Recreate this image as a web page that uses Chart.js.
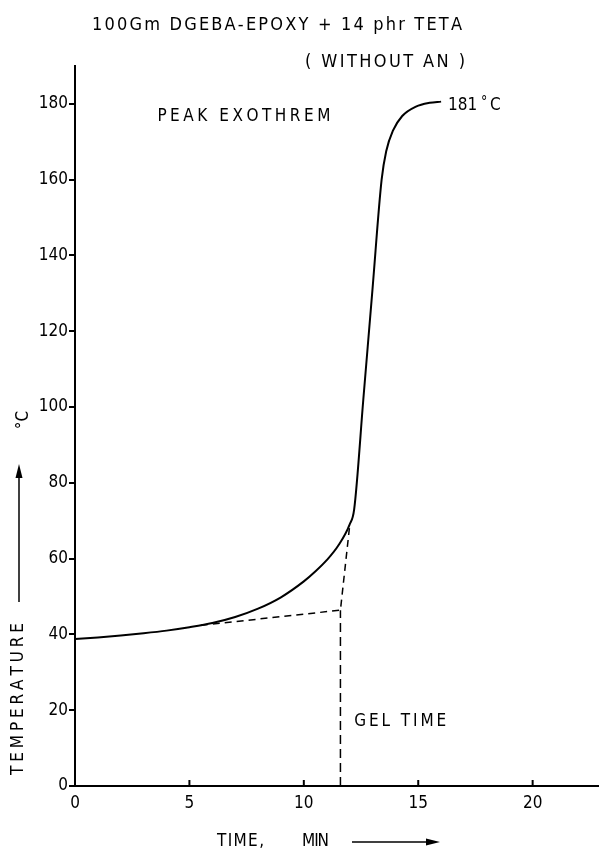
<!DOCTYPE html>
<html>
<head>
<meta charset="utf-8">
<script src="https://cdn.jsdelivr.net/npm/chart.js@4.4.1/dist/chart.umd.min.js"></script>
<style>
  html, body { margin: 0; padding: 0; background: #fff; }
  #wrap { width: 599px; height: 854px; position: relative; }
</style>
</head>
<body>
<div id="wrap"><canvas id="myChart"></canvas></div>
<script>
// data (time in min, temperature in degC)
const curveTime = [0, 1, 2, 3, 4, 5, 6, 7, 8, 9, 10, 10.5, 11, 11.5, 12.0, 12.2, 12.6, 13.0, 13.4, 13.6, 13.9, 14.3, 14.9, 15.5, 16.0];
const curveTemp = [38.8, 39.2, 39.7, 40.3, 41.0, 41.9, 43.0, 44.6, 46.8, 49.8, 54.0, 56.6, 59.6, 63.4, 69.0, 73.0, 102, 131, 160, 167.5, 173, 176.8, 179.3, 180.3, 180.6];

// dashed construction lines for the gel time
const baseTime = [5.5, 11.6, 12.0];
const baseTemp = [42.4, 46.4, 68.5];
const gelTime = [11.6, 11.6];
const gelTemp = [0, 46.4];

const xTicks = [0, 5, 10, 15, 20];
const yTicks = [0, 20, 40, 60, 80, 100, 120, 140, 160, 180];

const FONT = "'DejaVu Sans Condensed', 'Liberation Sans Narrow', 'DejaVu Sans', sans-serif";

const toPoints = (xs, ys) => xs.map((x, i) => ({ x: x, y: ys[i] }));

// draw text letter by letter so it spans a given width
function spacedText(ctx, text, x, y, width, size) {
  ctx.font = size + 'px ' + FONT;
  ctx.textAlign = 'left';
  ctx.textBaseline = 'middle';
  const chars = [...text];
  const ws = chars.map(c => ctx.measureText(c).width);
  const total = ws.reduce((a, b) => a + b, 0);
  const gap = chars.length > 1 ? (width - total) / (chars.length - 1) : 0;
  let cx = x;
  chars.forEach((c, i) => {
    ctx.fillText(c, cx, y);
    cx += ws[i] + gap;
  });
}

const textPlugin = {
  id: 'textPlugin',
  afterDraw(chart) {
    const ctx = chart.ctx;
    const xs = chart.scales.x;
    const ys = chart.scales.y;
    const area = chart.chartArea;
    ctx.save();
    ctx.fillStyle = '#000';
    ctx.strokeStyle = '#000';

    // x tick marks point up into the plot
    ctx.lineWidth = 2;
    xTicks.slice(1).forEach(v => {
      const px = xs.getPixelForValue(v);
      ctx.beginPath();
      ctx.moveTo(px, area.bottom);
      ctx.lineTo(px, area.bottom - 6);
      ctx.stroke();
    });

    // title
    spacedText(ctx, '100Gm DGEBA-EPOXY + 14 phr TETA', 92, 25, 370, 18);
    spacedText(ctx, '( WITHOUT AN )', 305, 62, 160, 18);

    // annotations
    spacedText(ctx, 'PEAK EXOTHREM', xs.getPixelForValue(3.6), ys.getPixelForValue(176.6), 173, 17);
    spacedText(ctx, 'GEL TIME', xs.getPixelForValue(12.2), ys.getPixelForValue(17), 92, 17);
    const lx = xs.getPixelForValue(16.3);
    const ly = ys.getPixelForValue(179.5);
    ctx.font = '17px ' + FONT;
    ctx.textAlign = 'left';
    ctx.textBaseline = 'middle';
    ctx.fillText('181', lx, ly);
    ctx.font = '14px ' + FONT;
    ctx.fillText('°', lx + 33, ly - 3);
    ctx.font = '17px ' + FONT;
    ctx.fillText('C', lx + 42, ly);

    // x axis title
    spacedText(ctx, 'TIME,', 217, 842, 47, 17);
    spacedText(ctx, 'MIN', 302, 842, 27, 17);
    ctx.lineWidth = 1.5;
    ctx.beginPath();
    ctx.moveTo(352, 842);
    ctx.lineTo(428, 842);
    ctx.stroke();
    ctx.beginPath();
    ctx.moveTo(440, 842);
    ctx.lineTo(426, 838.5);
    ctx.lineTo(426, 845.5);
    ctx.closePath();
    ctx.fill();

    // y axis title (rotated)
    ctx.save();
    ctx.translate(19, 699);
    ctx.rotate(-Math.PI / 2);
    spacedText(ctx, 'TEMPERATURE', -76, 0, 152, 17);
    ctx.restore();
    ctx.lineWidth = 1.5;
    ctx.beginPath();
    ctx.moveTo(19, 602);
    ctx.lineTo(19, 476);
    ctx.stroke();
    ctx.beginPath();
    ctx.moveTo(19, 464);
    ctx.lineTo(15.5, 478);
    ctx.lineTo(22.5, 478);
    ctx.closePath();
    ctx.fill();
    ctx.save();
    ctx.translate(24, 420);
    ctx.rotate(-Math.PI / 2);
    ctx.font = '17px ' + FONT;
    ctx.textAlign = 'center';
    ctx.textBaseline = 'middle';
    ctx.fillText('°C', 0, 0);
    ctx.restore();

    ctx.restore();
  }
};

const data = {
  datasets: [
    {
      label: 'Temperature',
      data: toPoints(curveTime, curveTemp),
      borderColor: '#000',
      borderWidth: 2,
      pointRadius: 0,
      cubicInterpolationMode: 'monotone',
      fill: false
    },
    {
      label: 'Base line',
      data: toPoints(baseTime, baseTemp),
      borderColor: '#000',
      borderWidth: 1.5,
      borderDash: [7, 5],
      pointRadius: 0,
      tension: 0,
      fill: false
    },
    {
      label: 'Gel time',
      data: toPoints(gelTime, gelTemp),
      borderColor: '#000',
      borderWidth: 1.5,
      borderDash: [9, 5],
      pointRadius: 0,
      tension: 0,
      fill: false
    }
  ]
};

// config
const config = {
  type: 'line',
  data,
  options: {
    responsive: true,
    maintainAspectRatio: false,
    animation: false,
    layout: { padding: { top: 66, right: 0, bottom: 0, left: 0 } },
    plugins: {
      legend: { display: false },
      tooltip: { enabled: false }
    },
    scales: {
      x: {
        type: 'linear',
        min: 0,
        max: 22.9,
        afterBuildTicks: s => { s.ticks = xTicks.map(v => ({ value: v })); },
        afterFit: s => { s.height = 68; },
        grid: { drawOnChartArea: false, color: 'rgba(0,0,0,0)', tickLength: 4 },
        border: { color: '#000', width: 2 },
        ticks: { color: '#000', font: { family: FONT, size: 17 }, padding: 3, maxRotation: 0, autoSkip: false }
      },
      y: {
        min: 0,
        max: 190,
        afterBuildTicks: s => { s.ticks = yTicks.map(v => ({ value: v })); },
        afterFit: s => { s.width = 75; },
        grid: { drawOnChartArea: false, color: '#000', lineWidth: 2, tickLength: 6 },
        border: { color: '#000', width: 2 },
        ticks: { color: '#000', font: { family: FONT, size: 17 }, padding: 1, autoSkip: false }
      }
    }
  },
  plugins: [textPlugin]
};

// render init block
const myChart = new Chart(
  document.getElementById('myChart'),
  config
);
</script>
</body>
</html>
